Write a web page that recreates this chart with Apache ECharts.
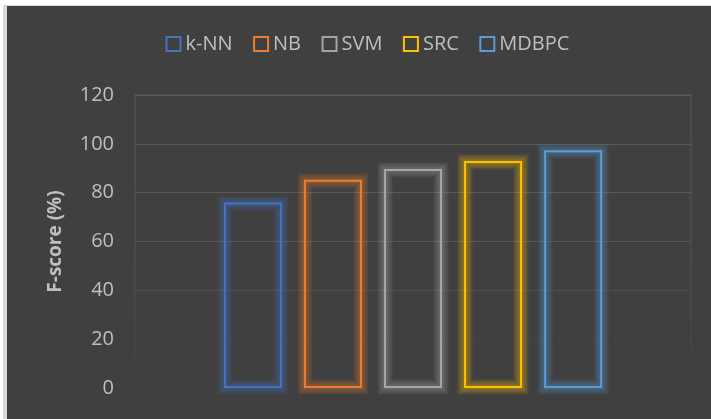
<!DOCTYPE html>
<html>
<head>
<meta charset="utf-8">
<script src="https://cdn.jsdelivr.net/npm/echarts@6/dist/echarts.min.js"></script>
<style>
  html, body { margin: 0; padding: 0; background: #ffffff; }
  #frame { position: absolute; left: 3px; top: 5px; width: 708px; height: 414px; background: #d9d9d9; }
  #chart { position: absolute; left: 7px; top: 6px; width: 704px; height: 413px; background: #404040; }
</style>
</head>
<body>
<div id="frame"></div>
<div id="chart"></div>
<script>
// F-score per classifier
const methods = ['k-NN', 'NB', 'SVM', 'SRC', 'MDBPC'];
const fScores = [76, 85.3, 89.7, 93, 97.4];
const colors = ['#4472c4', '#ed7d31', '#a5a5a5', '#ffc000', '#5b9bd5'];
const yTicks = [0, 20, 40, 60, 80, 100, 120];

const fontFamily = '"Open Sans", "Noto Sans", sans-serif';
const chart = echarts.init(document.getElementById('chart'), null, { renderer: 'canvas' });

function hexA(hex, a) {
  const n = parseInt(hex.slice(1), 16);
  return 'rgba(' + (n >> 16) + ',' + ((n >> 8) & 255) + ',' + (n & 255) + ',' + a + ')';
}

// gridlines fade out toward the baseline
const splitColors = ['rgba(89,89,89,0)', 'rgba(89,89,89,0.2)', 'rgba(89,89,89,0.55)',
  'rgba(89,89,89,0.9)', '#595959', '#595959', '#5a5a5a'];

const BAR_WIDTH = 58;
const BAR_GAP = 0.38;

// crisp outlined bars
const outline = methods.map((name, i) => ({
  name: name,
  type: 'bar',
  data: [fScores[i]],
  barWidth: BAR_WIDTH,
  barGap: (BAR_GAP * 100) + '%',
  z: 3,
  itemStyle: {
    color: 'none',
    borderColor: colors[i],
    borderWidth: 2
  },
  emphasis: { disabled: true }
}));

// soft glow around each outline: stacked faint strokes centred on the edge
const glowWidths = [15, 12, 9, 6, 3];
const glow = {
  name: 'glow',
  type: 'custom',
  silent: true,
  clip: false,
  z: 1,
  encode: { x: 0, y: 1 },
  data: fScores.map((v, i) => [0, v, i]),
  renderItem: function (params, api) {
    const k = api.value(2);
    const top = api.coord([0, api.value(1)]);
    const base = api.coord([0, 0]);
    const gap = BAR_WIDTH * BAR_GAP;
    const n = methods.length;
    const total = n * BAR_WIDTH + (n - 1) * gap;
    const x = top[0] - total / 2 + k * (BAR_WIDTH + gap);
    const shape = { x: x + 1, y: top[1] + 1, width: BAR_WIDTH - 2, height: base[1] - top[1] - 2 };
    return {
      type: 'group',
      children: glowWidths.map(w => ({
        type: 'rect',
        shape: shape,
        style: { fill: 'none', stroke: hexA(colors[k], 0.1), lineWidth: w }
      }))
    };
  }
};

chart.setOption({
  backgroundColor: '#404040',
  animation: false,
  color: colors,
  legend: {
    left: 152,
    top: 23,
    itemWidth: 14,
    itemHeight: 14,
    itemGap: 19,
    icon: 'rect',
    textStyle: { color: '#bfbfbf', fontSize: 20, fontFamily: fontFamily },
    data: methods.map((m, i) => ({
      name: m,
      itemStyle: { color: 'none', borderColor: colors[i], borderWidth: 2 }
    }))
  },
  grid: {
    left: 128,
    right: 20,
    top: 89,
    bottom: 31,
    show: true,
    backgroundColor: 'rgba(0,0,0,0)',
    borderWidth: 1,
    borderColor: new echarts.graphic.LinearGradient(0, 0, 0, 1, [
      { offset: 0, color: '#595959' },
      { offset: 0.5, color: '#535353' },
      { offset: 1, color: 'rgba(89,89,89,0)' }
    ])
  },
  xAxis: {
    type: 'category',
    data: [''],
    axisLine: { show: false },
    axisTick: { show: false },
    axisLabel: { show: false },
    splitLine: { show: false }
  },
  yAxis: {
    type: 'value',
    min: yTicks[0],
    max: yTicks[yTicks.length - 1],
    interval: yTicks[1] - yTicks[0],
    name: 'F-score (%)',
    nameLocation: 'middle',
    nameGap: 70,
    nameRotate: 90,
    nameTextStyle: { color: '#bfbfbf', fontSize: 19, fontWeight: 'bold', fontFamily: fontFamily },
    axisLine: { show: false },
    axisTick: { show: false },
    axisLabel: { color: '#bfbfbf', fontSize: 20, margin: 21, fontFamily: fontFamily },
    splitLine: { show: true, lineStyle: { color: splitColors, width: 1 } }
  },
  series: [glow].concat(outline)
});
</script>
</body>
</html>
